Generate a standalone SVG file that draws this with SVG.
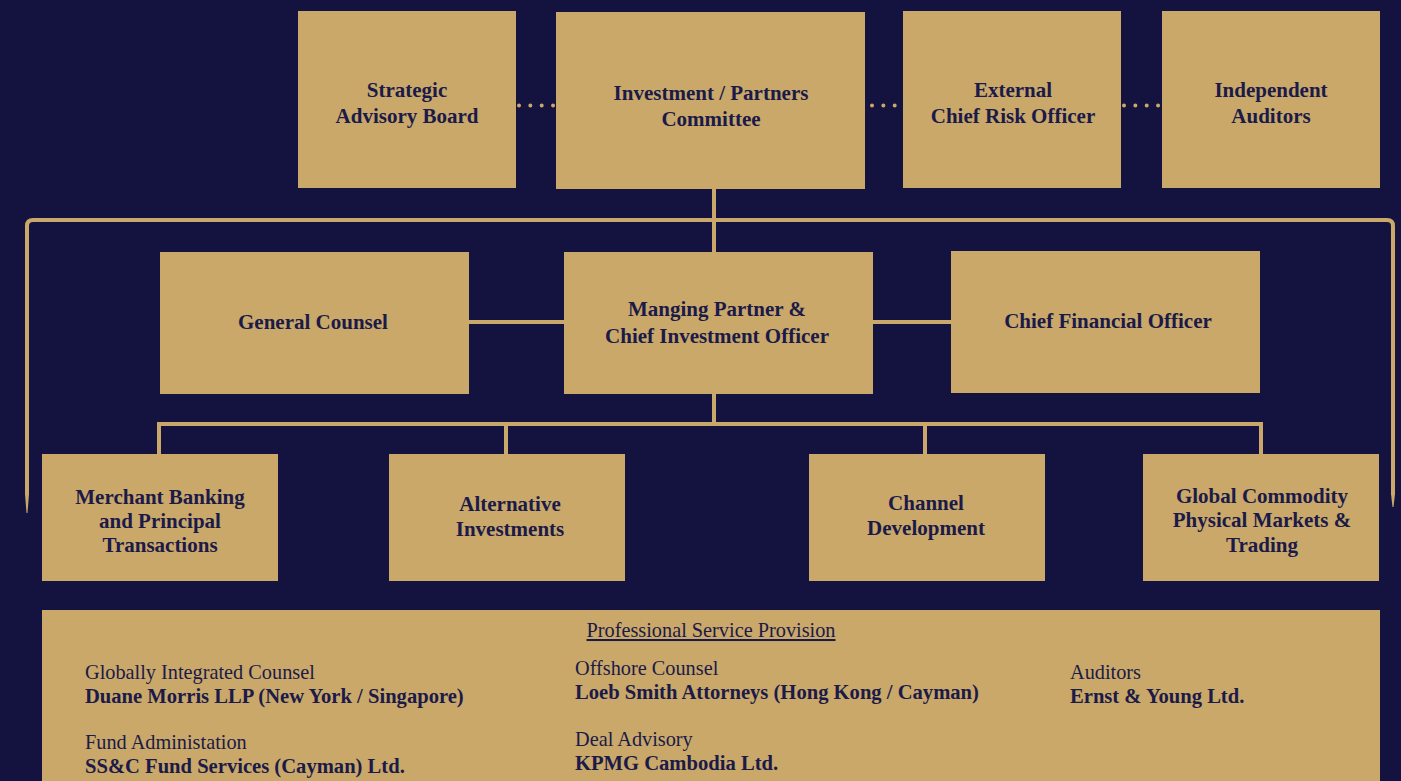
<svg xmlns="http://www.w3.org/2000/svg" width="1401" height="781" viewBox="0 0 1401 781">
<defs>
<style>
.bg{fill:#14133f}
.box{fill:#c9a869}
.t{font-family:"Liberation Serif","Times New Roman",serif;font-weight:bold;font-size:21px;fill:#1b1a48;text-anchor:middle}
.r{font-family:"Liberation Serif","Times New Roman",serif;font-size:20.3px;fill:#1b1a48}
.b{font-family:"Liberation Serif","Times New Roman",serif;font-size:20.6px;font-weight:bold;fill:#1b1a48}
.ln{stroke:#c9a869;stroke-width:4;fill:none}
.dot{stroke:#c9a869;stroke-width:4;stroke-linecap:round;stroke-dasharray:0 11.35;fill:none}
.taper{fill:#c9a869}
</style>
</defs>
<rect class="bg" x="0" y="0" width="1401" height="781"/>
<g id="connectors">
<line class="dot" x1="519" y1="105.5" x2="553.5" y2="105.5"/>
<line class="dot" x1="872" y1="105.5" x2="895.5" y2="105.5"/>
<line class="dot" x1="1124" y1="105.5" x2="1159" y2="105.5"/>
<line class="ln" x1="714" y1="189" x2="714" y2="252"/>
<path class="ln" d="M27,226 Q27,220 33,220 L1387,220 Q1393,220 1393,226 L1393,495"/>
<path class="ln" d="M27,226 L27,495"/>
<polygon class="taper" points="25,494 29,494 27.5,513 26.5,513"/>
<polygon class="taper" points="1391,494 1395,494 1393.5,507 1392.5,507"/>
<line class="ln" x1="469" y1="322" x2="564" y2="322"/>
<line class="ln" x1="873" y1="322" x2="951" y2="322"/>
<line class="ln" x1="714" y1="394" x2="714" y2="424"/>
<polyline class="ln" points="159,454 159,424 1261,424 1261,454"/>
<line class="ln" x1="506" y1="424" x2="506" y2="454"/>
<line class="ln" x1="925" y1="424" x2="925" y2="454"/>
</g>
<g id="strategic-advisory-board">
<rect class="box" x="298" y="11" width="218" height="177"/>
<text class="t" x="407" y="97">Strategic</text>
<text class="t" x="407" y="123">Advisory Board</text>
</g>
<g id="investment-committee">
<rect class="box" x="556" y="12" width="309" height="177"/>
<text class="t" x="711" y="100">Investment / Partners</text>
<text class="t" x="711" y="126">Committee</text>
</g>
<g id="external-cro">
<rect class="box" x="903" y="11" width="218" height="177"/>
<text class="t" x="1013" y="97">External</text>
<text class="t" x="1013" y="123">Chief Risk Officer</text>
</g>
<g id="independent-auditors">
<rect class="box" x="1162" y="11" width="218" height="177"/>
<text class="t" x="1271" y="97">Independent</text>
<text class="t" x="1271" y="123">Auditors</text>
</g>
<g id="general-counsel">
<rect class="box" x="160" y="252" width="309" height="142"/>
<text class="t" x="313" y="329">General Counsel</text>
</g>
<g id="managing-partner">
<rect class="box" x="564" y="252" width="309" height="142"/>
<text class="t" x="717" y="316">Manging Partner &amp;</text>
<text class="t" x="717" y="343">Chief Investment Officer</text>
</g>
<g id="cfo">
<rect class="box" x="951" y="251" width="309" height="142"/>
<text class="t" x="1108" y="328">Chief Financial Officer</text>
</g>
<g id="merchant-banking">
<rect class="box" x="42" y="454" width="236" height="127"/>
<text class="t" x="160" y="504">Merchant Banking</text>
<text class="t" x="160" y="528">and Principal</text>
<text class="t" x="160" y="552">Transactions</text>
</g>
<g id="alternative-investments">
<rect class="box" x="389" y="454" width="236" height="127"/>
<text class="t" x="510" y="511">Alternative</text>
<text class="t" x="510" y="536">Investments</text>
</g>
<g id="channel-development">
<rect class="box" x="809" y="454" width="236" height="127"/>
<text class="t" x="926" y="510">Channel</text>
<text class="t" x="926" y="535">Development</text>
</g>
<g id="global-commodity">
<rect class="box" x="1143" y="454" width="236" height="127"/>
<text class="t" x="1262" y="503">Global Commodity</text>
<text class="t" x="1262" y="527">Physical Markets &amp;</text>
<text class="t" x="1262" y="552">Trading</text>
</g>
<g id="professional-service-provision">
<rect class="box" x="42" y="610" width="1338" height="171"/>
<text class="r" x="711" y="637" text-anchor="middle" text-decoration="underline">Professional Service Provision</text>
<text class="r" x="85" y="679">Globally Integrated Counsel</text>
<text class="b" x="85" y="703">Duane Morris LLP (New York / Singapore)</text>
<text class="r" x="85" y="749">Fund Administation</text>
<text class="b" x="85" y="773">SS&amp;C Fund Services (Cayman) Ltd.</text>
<text class="r" x="575" y="675">Offshore Counsel</text>
<text class="b" x="575" y="699">Loeb Smith Attorneys (Hong Kong / Cayman)</text>
<text class="r" x="575" y="746">Deal Advisory</text>
<text class="b" x="575" y="770">KPMG Cambodia Ltd.</text>
<text class="r" x="1070" y="679">Auditors</text>
<text class="b" x="1070" y="703">Ernst &amp; Young Ltd.</text>
</g>
</svg>
